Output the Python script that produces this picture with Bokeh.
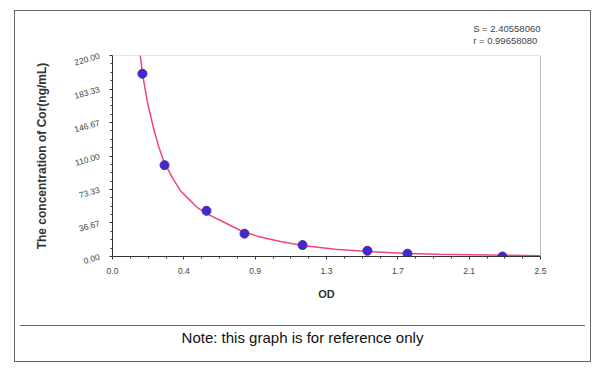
from bokeh.plotting import figure
from bokeh.models import FixedTicker, Span, Title, Div
from bokeh.layouts import column
from bokeh.embed import file_html
from bokeh.resources import INLINE

# Standard points: OD vs concentration
od = [0.175, 0.304, 0.549, 0.771, 1.110, 1.489, 1.723, 2.278]
conc = [200, 100, 50, 25, 12.5, 6.25, 3.125, 0]

# Fitted curve
curve_od = [0.158, 0.177, 0.205, 0.239, 0.27, 0.298, 0.35, 0.397, 0.45, 0.496, 0.55,
            0.631, 0.748, 0.85, 0.981, 1.11, 1.3, 1.49, 1.72, 1.9, 2.1, 2.3, 2.5]
curve_conc = [226, 198, 168, 141, 120, 105, 86, 72, 62, 53.6, 47,
              39.4, 28.5, 22, 16.4, 12, 8, 5.5, 3.3, 2.5, 2.0, 1.3, 0.8]

x_ticks = [0, 2.5 / 6, 2.5 / 3, 1.25, 2.5 * 2 / 3, 2.5 * 5 / 6, 2.5]
x_tick_labels = ["0.0", "0.4", "0.9", "1.3", "1.7", "2.1", "2.5"]
y_ticks = [0, 36.67, 73.33, 110, 146.67, 183.33, 220]
y_tick_labels = ["0.00", "36.67", "73.33", "110.00", "146.67", "183.33", "220.00"]
stats = ["S = 2.40558060", "r = 0.99658080"]
note = "Note: this graph is for reference only"

FONT = "Liberation Sans"

p = figure(width=565, height=309, x_range=(0, 2.5), y_range=(0, 220),
           output_backend="svg", toolbar_location=None,
           min_border_left=97, min_border_right=40, min_border_top=44, min_border_bottom=64)
p.grid.visible = False
p.outline_line_color = None
p.background_fill_color = "white"
p.border_fill_color = "white"

xminor = []
for i in range(len(x_ticks) - 1):
    step = (x_ticks[i + 1] - x_ticks[i]) / 4
    xminor += [x_ticks[i] + step * k for k in range(1, 4)]
yminor = []
for i in range(len(y_ticks) - 1):
    step = (y_ticks[i + 1] - y_ticks[i]) / 4
    yminor += [y_ticks[i] + step * k for k in range(1, 4)]

p.xaxis.ticker = FixedTicker(ticks=x_ticks, minor_ticks=xminor)
p.xaxis.major_label_overrides = {t: l for t, l in zip(x_ticks, x_tick_labels)}
p.yaxis.ticker = FixedTicker(ticks=y_ticks, minor_ticks=yminor)
p.yaxis.major_label_overrides = {t: l for t, l in zip(y_ticks, y_tick_labels)}

for ax in (p.xaxis, p.yaxis):
    ax.axis_line_color = "#333333"
    ax.major_tick_line_color = "#333333"
    ax.minor_tick_line_color = "#333333"
    ax.major_tick_in = 0
    ax.major_tick_out = 3
    ax.minor_tick_in = 0
    ax.minor_tick_out = 2
    ax.major_label_text_font = FONT
    ax.major_label_text_font_size = "8.5px"
    ax.major_label_text_color = "#444444"
    ax.axis_label_text_font = FONT
    ax.axis_label_text_font_style = "bold"
    ax.axis_label_text_color = "#333333"

p.yaxis.major_label_orientation = 0.28
p.yaxis.major_label_standoff = 10
p.yaxis.axis_label = "The concentration of Cor(ng/mL)"
p.yaxis.axis_label_text_font_size = "12px"
p.yaxis.axis_label_standoff = 21

p.xaxis.major_label_standoff = 8
p.xaxis.axis_label = "OD"
p.xaxis.axis_label_text_font_size = "11px"
p.xaxis.axis_label_standoff = 11

p.add_layout(Span(location=220, dimension="width", line_color="#cccccc", line_width=1))
p.add_layout(Span(location=2.5, dimension="height", line_color="#777777", line_width=1))

p.line(curve_od, curve_conc, line_color="#f2457f", line_width=1.5)
p.scatter(od, conc, size=9, fill_color="#3f2bd0", line_color="#5a2a9a", line_width=1)

p.add_layout(Title(text="\n".join(stats), align="right", offset=0, text_font=FONT,
                   text_font_size="9.5px", text_font_style="normal", text_line_height=1.1,
                   text_color="#444444", standoff=19), "above")

div = Div(text=f'<div style="width:540px;text-align:center;font-family:{FONT};font-size:15px;'
               f'color:#111;line-height:19px;padding-top:2px;">{note}</div>',
          width=565, height=31,
          styles={"border-top": "1px solid #666666", "text-align": "center"})

boxed = column(p, div, spacing=0, margin=(10, 0, 0, 14),
               styles={"border": "1px solid #666666"})

open("out.html", "w").write(file_html(boxed, INLINE))
